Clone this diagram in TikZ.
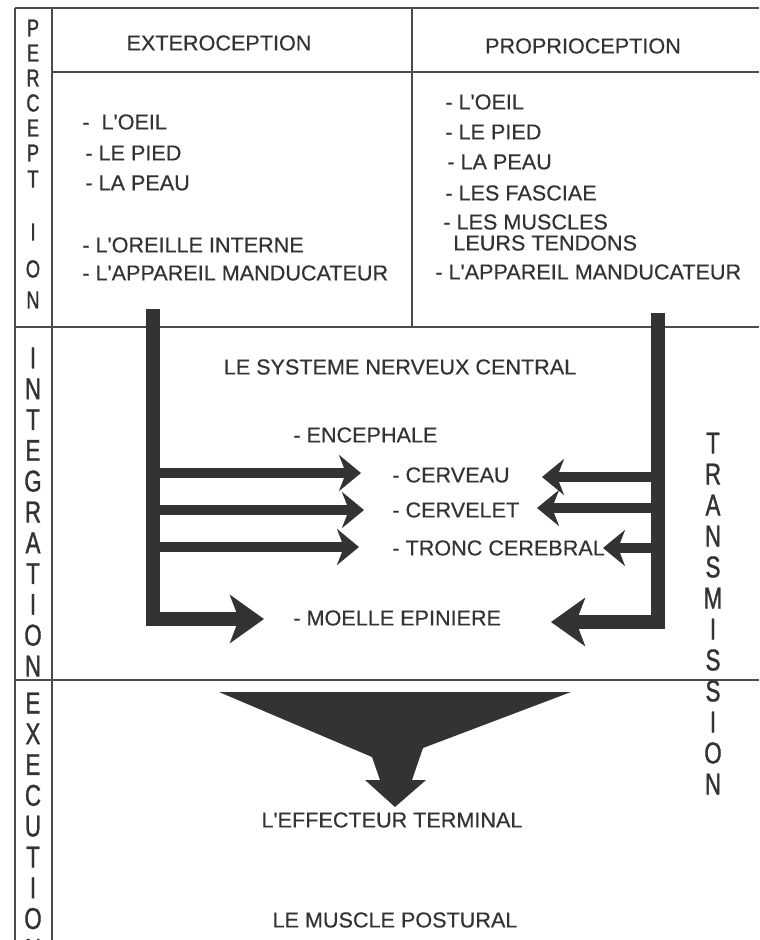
\documentclass[tikz,border=0pt]{standalone}
\usepackage{fontspec}
\setmainfont[FakeBold=0.4]{Liberation Sans}
\newfontfamily\narrowfont[FakeStretch=0.74, FakeBold=1.2]{Liberation Sans}
\usepackage{tikz}
\usetikzlibrary{arrows.meta}
\definecolor{ink}{rgb}{0.2,0.2,0.2}
\definecolor{rule}{rgb}{0.3,0.3,0.3}
\newcommand{\ap}{\textquotesingle}

\begin{document}
\begin{tikzpicture}[
            x = 0.5pt, y = -0.5pt, % one unit = one pixel, y downwards
            text = ink,
            font = \fontsize{10.8}{12}\selectfont
        ]

        \tikzstyle{frame}=[draw = rule, line width = 1pt]
        \tikzstyle{item}=[anchor = west, inner sep = 0pt]
        \tikzstyle{title}=[inner sep = 0pt]
        \tikzstyle{letter}=[inner sep = 0pt, font = \narrowfont\fontsize{15}{17}\selectfont]
        \tikzstyle{smallletter}=[inner sep = 0pt, font = \narrowfont\fontsize{12.3}{14}\selectfont]
        \tikzstyle{branch}=[draw = ink, line width = 5pt,
            -{Stealth[length = 11pt, width = 18pt, inset = 3.5pt]}]
        \tikzstyle{trunk}=[draw = ink, line width = 7pt, line join = miter,
            -{Stealth[length = 17pt, width = 24pt, inset = 4.5pt]}]

        \useasboundingbox[fill = white] (0,0) rectangle (759,940);

        % table lines
        \draw[frame] (15,8) -- (759,8);
        \draw[frame, line width = 1.3pt] (15,8) -- (15,940);
        \draw[frame] (52,8) -- (52,940);
        \draw[frame] (52,72) -- (759,72);
        \draw[frame] (412,8) -- (412,327);
        \draw[frame] (15,327) -- (759,327);
        \draw[frame] (15,680) -- (759,680);

        % side labels
        \foreach \c/\y [count=\i] in {P/28,E/53,R/78,C/103,E/128,P/153,T/179,I/232,O/269,N/300}
            \node[smallletter] (perc\i) at (33,\y) {\c};
        \foreach \c [count=\i] in {I,N,T,E,G,R,A,T,I,O,N}
            \node[letter] (integ\i) at (33,327.2+30.8*\i) {\c};
        \foreach \c [count=\i] in {E,X,E,C,U,T,I,O,N}
            \node[letter] (exec\i) at (33,672.2+30.8*\i) {\c};
        \foreach \c [count=\i] in {T,R,A,N,S,M,I,S,S,I,O,N}
            \node[letter] (trans\i) at (713,412+31*\i) {\c};

        % perception
        \node[title] (extero) at (219,43) {EXTEROCEPTION};
        \node[title] (proprio) at (583,46) {PROPRIOCEPTION};

        \node[item] (e1) at (82,122) {-\ \ L\ap OEIL};
        \node[item] (e2) at (85,153) {- LE PIED};
        \node[item] (e3) at (85,183) {- LA PEAU};
        \node[item] (e4) at (82,245) {- L\ap OREILLE INTERNE};
        \node[item] (e5) at (82,273) {- L\ap APPAREIL MANDUCATEUR};

        \node[item] (p1) at (445,102) {- L\ap OEIL};
        \node[item] (p2) at (445,132) {- LE PIED};
        \node[item] (p3) at (447,162) {- LA PEAU};
        \node[item] (p4) at (445,193) {- LES FASCIAE};
        \node[item] (p5) at (443,222) {- LES MUSCLES};
        \node[item] (p6) at (453,243) {LEURS TENDONS};
        \node[item] (p7) at (435,272) {- L\ap APPAREIL MANDUCATEUR};

        % integration
        \node[title] (snc) at (400,367) {LE SYSTEME NERVEUX CENTRAL};
        \node[item] (ence) at (293,435) {- ENCEPHALE};
        \node[item] (cerv) at (392,475) {- CERVEAU};
        \node[item] (cervt) at (392,510) {- CERVELET};
        \node[item] (tronc) at (392,548) {- TRONC CEREBRAL};
        \node[item] (moelle) at (293,618) {- MOELLE EPINIERE};

        % transmission
        \coordinate (ltop) at (153,309);
        \coordinate (lend) at (264,619);
        \coordinate (rtop) at (658,313);
        \coordinate (rend) at (551,622);
        \draw[trunk] (ltop) |- (lend);
        \draw[trunk] (rtop) |- (rend);

        \coordinate (lt1) at (361,473);
        \coordinate (lt2) at (364,510);
        \coordinate (lt3) at (359,547);
        \coordinate (rt1) at (542,477);
        \coordinate (rt2) at (537,508);
        \coordinate (rt3) at (603,548);
        \draw[branch] (ltop |- lt1) -- (lt1);
        \draw[branch] (ltop |- lt2) -- (lt2);
        \draw[branch] (ltop |- lt3) -- (lt3);
        \draw[branch] (rtop |- rt1) -- (rt1);
        \draw[branch] (rtop |- rt2) -- (rt2);
        \draw[branch] (rtop |- rt3) -- (rt3);

        % execution
        \fill[ink] (219,692) -- (571,692) -- (423,748) -- (412,780) -- (426,780)
            -- (395,807) -- (365,780) -- (380,780) -- (372,757) -- cycle;
        \node[title] (effect) at (392,820) {L\ap EFFECTEUR TERMINAL};
        \node[title] (muscle) at (395,920) {LE MUSCLE POSTURAL};

\end{tikzpicture}
\end{document}
